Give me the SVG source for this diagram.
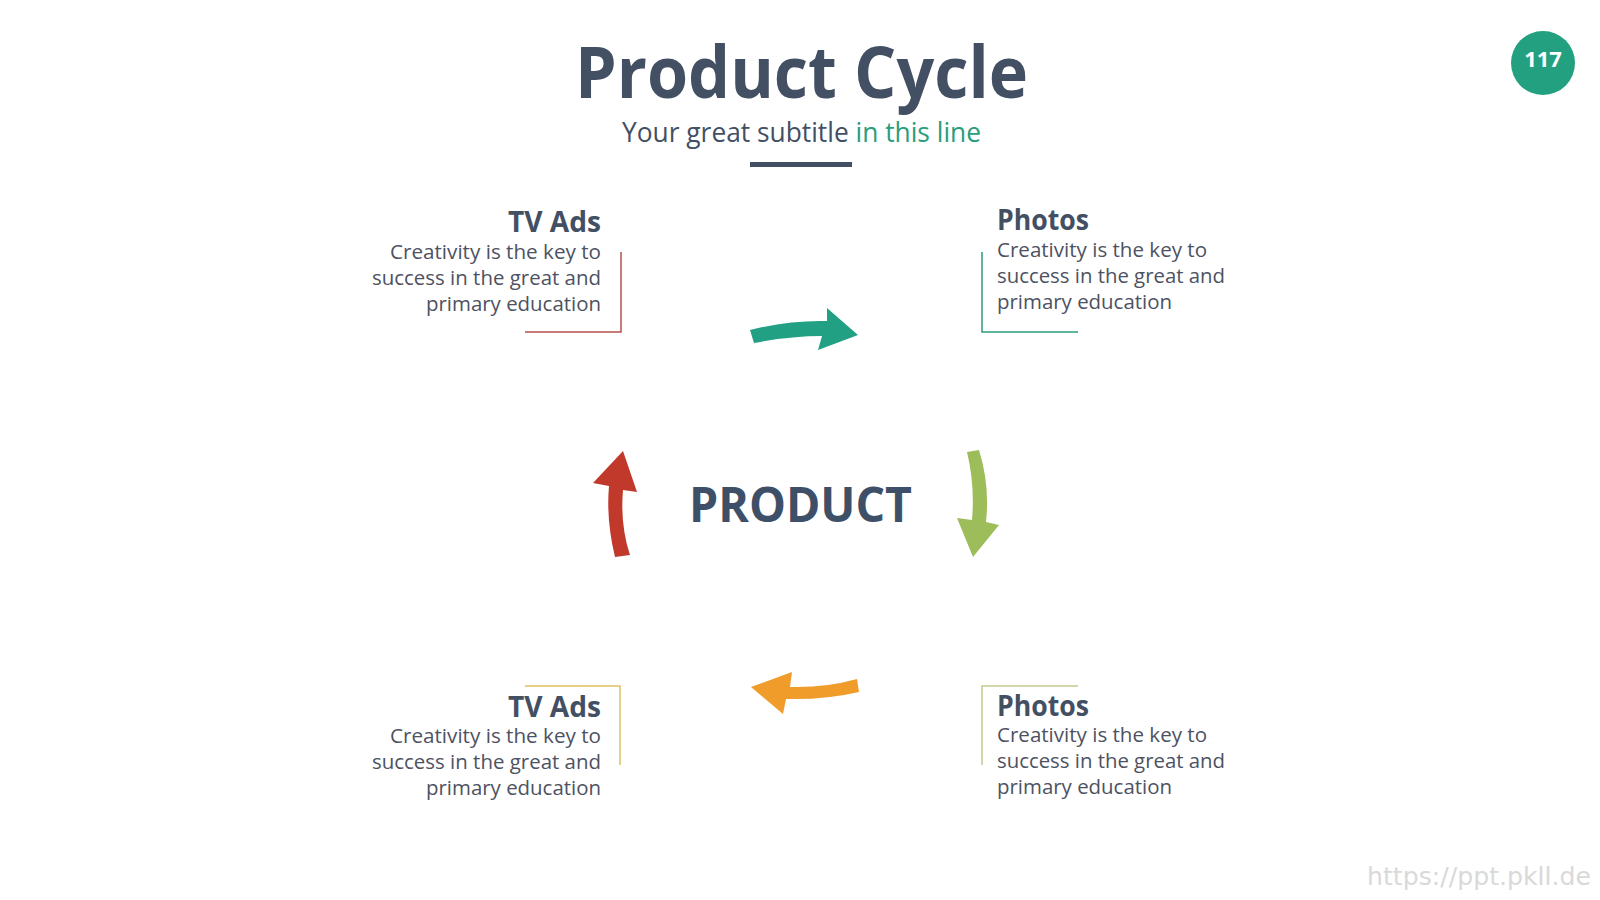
<svg xmlns="http://www.w3.org/2000/svg" width="1600" height="900" viewBox="0 0 1600 900">
<style>
text{font-family:"Open Sans","Noto Sans","Liberation Sans",sans-serif}
.title{font-size:71px;font-weight:700;fill:#434f63}
.sub{font-size:27px;fill:#434f63}
.hl{fill:#2a9d7c}
.head{font-size:28px;font-weight:700;fill:#434f63}
.body{font-size:20px;fill:#4d5262}
.br{fill:none;stroke-width:1.5}
</style>
<rect width="1600" height="900" fill="#ffffff"/>
<g id="header">
<text class="title" x="575" y="98" textLength="453" lengthAdjust="spacingAndGlyphs">Product Cycle</text>
<text class="sub" x="622" y="142" textLength="359" lengthAdjust="spacingAndGlyphs">Your great subtitle <tspan class="hl">in this line</tspan></text>
<rect x="750" y="162" width="102" height="5" fill="#434f63"/>
</g>
<g id="page-number">
<circle cx="1543" cy="63" r="32" fill="#22a07f"/>
<text x="1543" y="67" text-anchor="middle" font-size="22" font-weight="700" fill="#ffffff">117</text>
</g>
<g id="center">
<text x="689" y="522" font-size="48" font-weight="700" fill="#3e5068" textLength="223" lengthAdjust="spacingAndGlyphs">PRODUCT</text>
</g>
<g id="node-tl">
<text class="head" x="601" y="232" text-anchor="end" textLength="93" lengthAdjust="spacingAndGlyphs">TV Ads</text>
<text class="body" x="601" y="259" text-anchor="end" textLength="211" lengthAdjust="spacingAndGlyphs">Creativity is the key to</text>
<text class="body" x="601" y="285" text-anchor="end" textLength="229" lengthAdjust="spacingAndGlyphs">success in the great and</text>
<text class="body" x="601" y="311" text-anchor="end" textLength="175" lengthAdjust="spacingAndGlyphs">primary education</text>
<path class="br" stroke="#b5514e" d="M621,252 V332 H525"/>
</g>
<g id="node-tr">
<text class="head" x="997" y="230" textLength="92" lengthAdjust="spacingAndGlyphs">Photos</text>
<text class="body" x="997" y="257" textLength="210" lengthAdjust="spacingAndGlyphs">Creativity is the key to</text>
<text class="body" x="997" y="283" textLength="228" lengthAdjust="spacingAndGlyphs">success in the great and</text>
<text class="body" x="997" y="309" textLength="175" lengthAdjust="spacingAndGlyphs">primary education</text>
<path class="br" stroke="#2a9d7c" d="M982,252 V332 H1078"/>
</g>
<g id="node-bl">
<text class="head" x="601" y="717" text-anchor="end" textLength="93" lengthAdjust="spacingAndGlyphs">TV Ads</text>
<text class="body" x="601" y="743" text-anchor="end" textLength="211" lengthAdjust="spacingAndGlyphs">Creativity is the key to</text>
<text class="body" x="601" y="769" text-anchor="end" textLength="229" lengthAdjust="spacingAndGlyphs">success in the great and</text>
<text class="body" x="601" y="795" text-anchor="end" textLength="175" lengthAdjust="spacingAndGlyphs">primary education</text>
<path class="br" stroke="#e0c060" d="M525,686 H620 V765"/>
</g>
<g id="node-br">
<text class="head" x="997" y="716" textLength="92" lengthAdjust="spacingAndGlyphs">Photos</text>
<text class="body" x="997" y="742" textLength="210" lengthAdjust="spacingAndGlyphs">Creativity is the key to</text>
<text class="body" x="997" y="768" textLength="228" lengthAdjust="spacingAndGlyphs">success in the great and</text>
<text class="body" x="997" y="794" textLength="175" lengthAdjust="spacingAndGlyphs">primary education</text>
<path class="br" stroke="#c5c98e" d="M1078,686 H982 V765"/>
</g>
<g id="connectors">
<path fill="#22a083" d="M750,330 Q790,320 827,321 L827,308 L858,335 L818,350 L822,336 Q790,336 754,343 Z"/>
<path fill="#9dbd5a" d="M967,452 L979,450 Q990,485 986,522 L999,525 L973,557 L957,518 L972,520 Q975,485 967,452 Z"/>
<path fill="#f09c2a" d="M857,679 L859,692 Q825,700 786,699 L783,714 L751,687 L792,672 L790,687 Q825,688 857,679 Z"/>
<path fill="#c0392b" d="M615,557 Q606,520 609,486 L593,483 L623,451 L637,492 L623,490 Q620,525 630,555 Z"/>
</g>
<text x="1367" y="885" font-family="DejaVu Sans, sans-serif" font-size="24" fill="#d9d9d9" textLength="224" lengthAdjust="spacingAndGlyphs" style="font-family:'DejaVu Sans',sans-serif">https://ppt.pkll.de</text>
</svg>
